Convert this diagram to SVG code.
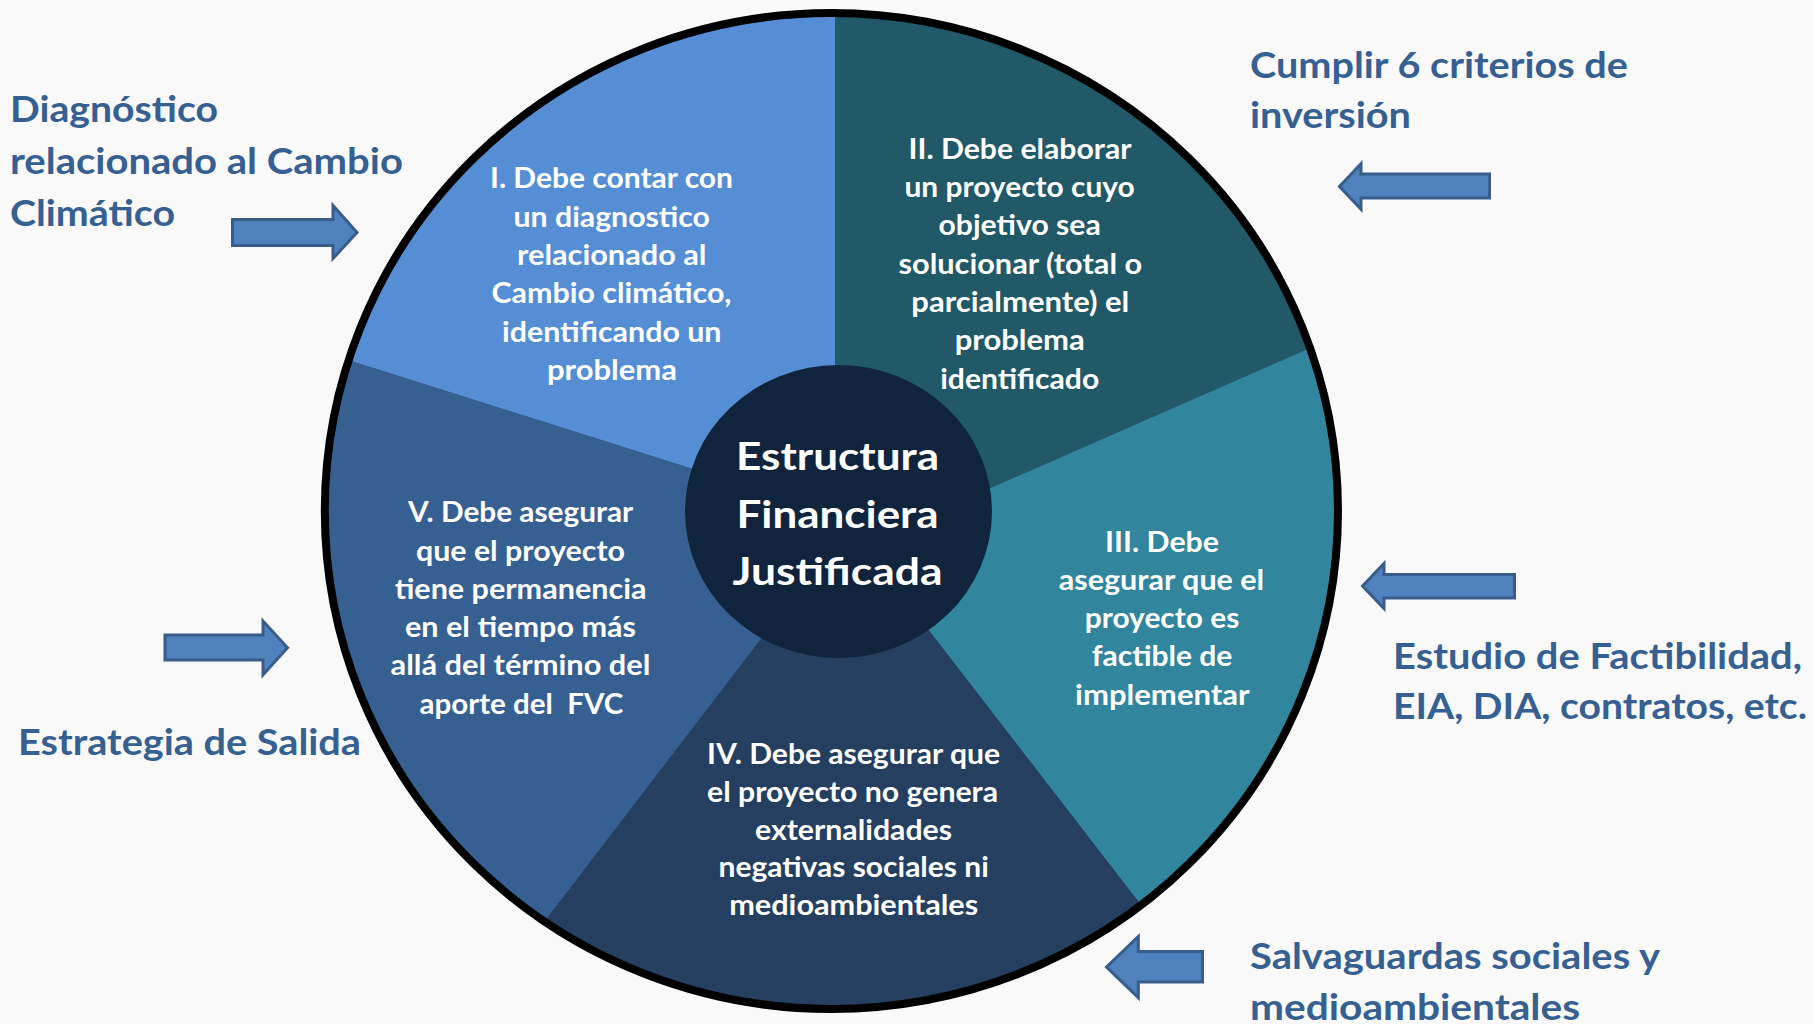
<svg xmlns="http://www.w3.org/2000/svg" width="1814" height="1024" viewBox="0 0 1814 1024">
<defs>
<style>
.t{font-family:Lato,"Open Sans","Liberation Sans",sans-serif;font-weight:700}
.sec text{font-size:29px;fill:#ffffff}
.ctr text{font-size:38px;fill:#ffffff}
.lbl text{font-size:36px;fill:#376092}
.arrow{fill:#4f81bd;stroke:#385d8a;stroke-width:3;stroke-linejoin:miter}
</style>
</defs>
<rect x="0" y="0" width="1814" height="1024" fill="#f9f9f9"/>
<ellipse cx="831.4" cy="511" rx="506.6" ry="498" fill="#2c4f75"/>
<g id="sector-I" class="sec t">
<path d="M835,512 L835,13 A506.6,498 0 0 0 348,360 L838,515 Z" fill="#558ed5"/>
<text x="490" y="188" textLength="243" lengthAdjust="spacingAndGlyphs">I. Debe contar con</text>
<text x="513.5" y="226.5" textLength="196.5" lengthAdjust="spacingAndGlyphs">un diagnostico</text>
<text x="517" y="265" textLength="189.5" lengthAdjust="spacingAndGlyphs">relacionado al</text>
<text x="491.5" y="303" textLength="240" lengthAdjust="spacingAndGlyphs">Cambio climático,</text>
<text x="502" y="341.5" textLength="219.5" lengthAdjust="spacingAndGlyphs">identificando un</text>
<text x="547" y="380" textLength="130" lengthAdjust="spacingAndGlyphs">problema</text>
</g>
<g id="sector-II" class="sec t">
<path d="M835,512 L835,13 A506.6,498 0 0 1 1308,349 L838,555 Z" fill="#215968"/>
<text x="908.5" y="158.5" textLength="223" lengthAdjust="spacingAndGlyphs">II. Debe elaborar</text>
<text x="904.5" y="197" textLength="230.3" lengthAdjust="spacingAndGlyphs">un proyecto cuyo</text>
<text x="938.5" y="235" textLength="162.3" lengthAdjust="spacingAndGlyphs">objetivo sea</text>
<text x="898.5" y="273.5" textLength="243.7" lengthAdjust="spacingAndGlyphs">solucionar (total o</text>
<text x="911.3" y="312" textLength="218" lengthAdjust="spacingAndGlyphs">parcialmente) el</text>
<text x="954.7" y="350" textLength="130" lengthAdjust="spacingAndGlyphs">problema</text>
<text x="940.2" y="388.5" textLength="159" lengthAdjust="spacingAndGlyphs">identificado</text>
</g>
<g id="sector-III" class="sec t">
<path d="M838,555 L1308,349 A506.6,498 0 0 1 1141,905 L837.5,512 Z" fill="#31859c"/>
<text x="1105" y="551.5" textLength="114" lengthAdjust="spacingAndGlyphs">III. Debe</text>
<text x="1058.8" y="589.5" textLength="205.4" lengthAdjust="spacingAndGlyphs">asegurar que el</text>
<text x="1084.8" y="628" textLength="154.5" lengthAdjust="spacingAndGlyphs">proyecto es</text>
<text x="1091.7" y="666" textLength="140.7" lengthAdjust="spacingAndGlyphs">factible de</text>
<text x="1075" y="704.5" textLength="174.7" lengthAdjust="spacingAndGlyphs">implementar</text>
</g>
<g id="sector-IV" class="sec t">
<path d="M837.5,512 L1141,905 A506.6,498 0 0 1 544,922 L858,512 Z" fill="#243f60"/>
<text x="707" y="764" textLength="293" lengthAdjust="spacingAndGlyphs">IV. Debe asegurar que</text>
<text x="707" y="802" textLength="291" lengthAdjust="spacingAndGlyphs">el proyecto no genera</text>
<text x="755" y="840" textLength="197" lengthAdjust="spacingAndGlyphs">externalidades</text>
<text x="718.5" y="877" textLength="270.3" lengthAdjust="spacingAndGlyphs">negativas sociales ni</text>
<text x="729.2" y="915" textLength="249" lengthAdjust="spacingAndGlyphs">medioambientales</text>
</g>
<g id="sector-V" class="sec t">
<path d="M858,512 L544,922 A506.6,498 0 0 1 348,360 L838,515 Z" fill="#376092"/>
<text x="408" y="522" textLength="225.2" lengthAdjust="spacingAndGlyphs">V. Debe asegurar</text>
<text x="416" y="560.5" textLength="209" lengthAdjust="spacingAndGlyphs">que el proyecto</text>
<text x="394.7" y="598.5" textLength="251.7" lengthAdjust="spacingAndGlyphs">tiene permanencia</text>
<text x="405" y="637" textLength="231" lengthAdjust="spacingAndGlyphs">en el tiempo más</text>
<text x="390.6" y="675" textLength="259.8" lengthAdjust="spacingAndGlyphs">allá del término del</text>
<text x="419.5" y="713.5" textLength="203.7" lengthAdjust="spacingAndGlyphs" xml:space="preserve">aporte del  FVC</text>
</g>
<ellipse id="outline" cx="831.4" cy="511" rx="506.6" ry="498" fill="none" stroke="#000000" stroke-width="8"/>
<g id="center" class="ctr t">
<ellipse cx="838.5" cy="511.5" rx="153.5" ry="146.5" fill="#10243e"/>
<text x="736" y="470" textLength="203" lengthAdjust="spacingAndGlyphs">Estructura</text>
<text x="736.5" y="527.5" textLength="202" lengthAdjust="spacingAndGlyphs">Financiera</text>
<text x="732.5" y="585" textLength="210" lengthAdjust="spacingAndGlyphs">Justificada</text>
</g>
<g id="label-diagnostico" class="lbl t">
<text x="10" y="122" textLength="208" lengthAdjust="spacingAndGlyphs">Diagnóstico</text>
<text x="10" y="174" textLength="393" lengthAdjust="spacingAndGlyphs">relacionado al Cambio</text>
<text x="10" y="226" textLength="165" lengthAdjust="spacingAndGlyphs">Climático</text>
</g>
<g id="label-criterios" class="lbl t">
<text x="1250" y="78" textLength="378" lengthAdjust="spacingAndGlyphs">Cumplir 6 criterios de</text>
<text x="1250" y="128" textLength="161" lengthAdjust="spacingAndGlyphs">inversión</text>
</g>
<g id="label-factibilidad" class="lbl t">
<text x="1393" y="669" textLength="409" lengthAdjust="spacingAndGlyphs">Estudio de Factibilidad,</text>
<text x="1393" y="719" textLength="414" lengthAdjust="spacingAndGlyphs">EIA, DIA, contratos, etc.</text>
</g>
<g id="label-salvaguardas" class="lbl t">
<text x="1250" y="969" textLength="410" lengthAdjust="spacingAndGlyphs">Salvaguardas sociales y</text>
<text x="1250" y="1020" textLength="330" lengthAdjust="spacingAndGlyphs">medioambientales</text>
</g>
<g id="label-salida" class="lbl t">
<text x="18" y="755" textLength="343" lengthAdjust="spacingAndGlyphs">Estrategia de Salida</text>
</g>
<g id="connectors">
<path class="arrow" d="M232.5,219.5 H333 V205.5 L357,232.5 L333,258.5 V245.5 H232.5 Z"/>
<path class="arrow" d="M1339.5,186.5 L1361,163.8 V174 H1489.5 V198 H1361 V209.2 Z"/>
<path class="arrow" d="M1362.5,586 L1384,563.5 V574.5 H1514.5 V598 H1384 V608.5 Z"/>
<path class="arrow" d="M1106.5,967 L1138.3,936.5 V951.5 H1202.5 V982 H1138.3 V997.8 Z"/>
<path class="arrow" d="M165,635 H263 V621 L287.5,647.7 L263,674.8 V660 H165 Z"/>
</g>
</svg>
